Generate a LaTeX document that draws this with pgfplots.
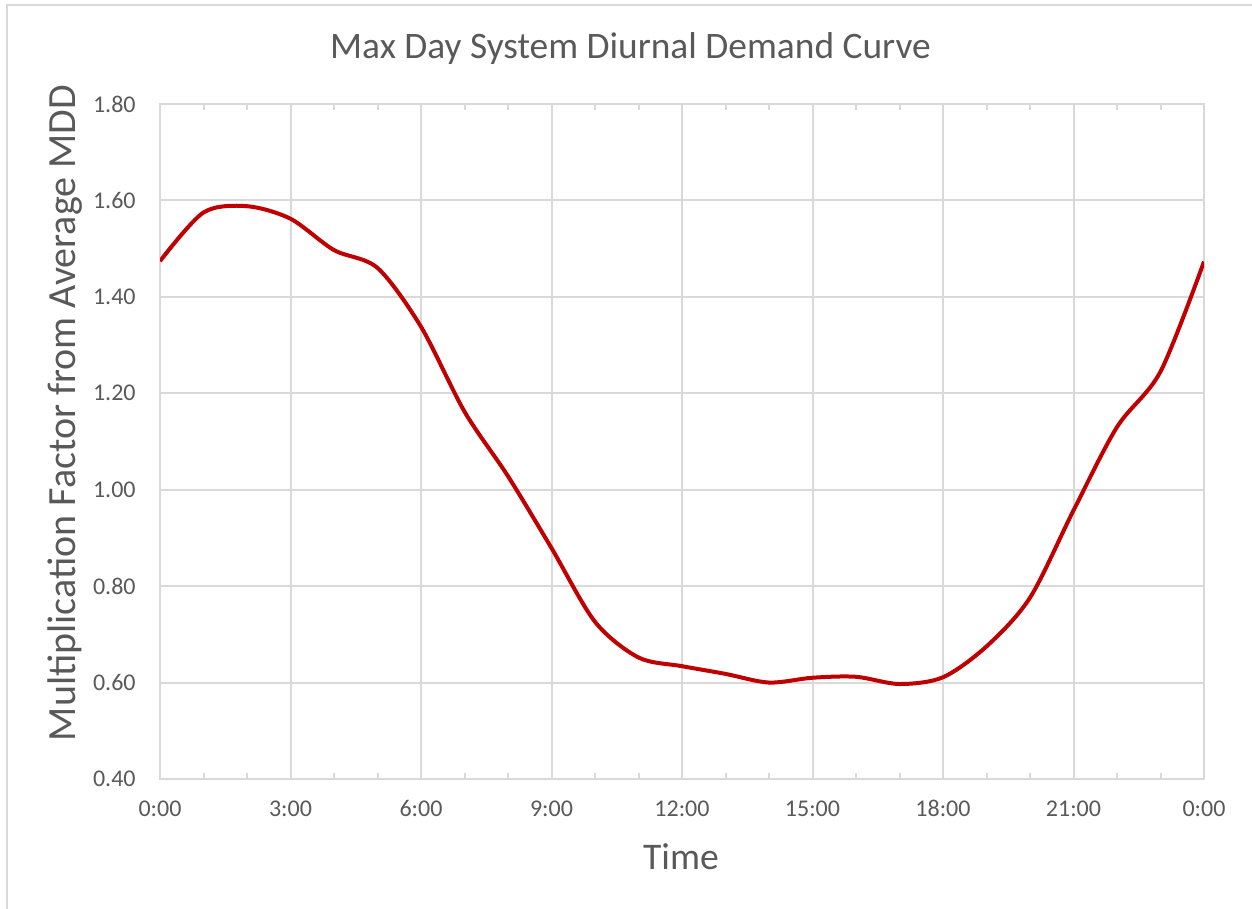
\documentclass[border=0pt]{standalone}
\usepackage{pgfplots}
\pgfplotsset{compat=1.18}
\usepackage{fontspec}
\setmainfont{Carlito}
\definecolor{gridc}{HTML}{D9D9D9}
\definecolor{txt}{HTML}{595959}
\definecolor{curve}{HTML}{C00000}
\begin{document}
\begin{tikzpicture}
\path[use as bounding box] (0,0) rectangle (626pt,454.5pt);
\draw[gridc, line width=1pt] (3.5pt,0) -- (3.5pt,452pt) -- (626pt,452pt);
\begin{axis}[
  at={(80pt,65pt)}, anchor=south west,
  scale only axis, width=522pt, height=337.5pt,
  xmin=0, xmax=24, ymin=0.4, ymax=1.8,
  xtick={0,3,...,24},
  xticklabels={0:00,3:00,6:00,9:00,12:00,15:00,18:00,21:00,0:00},
  minor x tick num=2,
  ytick={0.4,0.6,...,1.81},
  yticklabel style={/pgf/number format/fixed, /pgf/number format/fixed zerofill, /pgf/number format/precision=2},
  /pgf/number format/assume math mode=true,
  grid=major,
  major grid style={gridc, line width=1pt},
  axis line style={gridc, line width=1pt},
  tick align=inside,
  xtick style={gridc, line width=1pt},
  major x tick style={draw=none},
  minor tick length=3pt,
  ytick style={draw=none},
  tick label style={font=\fontsize{12pt}{14pt}\selectfont, text=txt, inner sep=0pt},
  yticklabel style={xshift=-12pt},
  xticklabel style={anchor=base, yshift=-19pt},
]
\addplot[curve, line width=2pt, smooth] coordinates {
(0,1.474) (1,1.575) (2,1.588) (3,1.562) (4,1.497) (5,1.460) (6,1.338)
(7,1.162) (8,1.028) (9,0.879) (10,0.726) (11,0.652) (12,0.634) (13,0.618)
(14,0.600) (15,0.610) (16,0.612) (17,0.597) (18,0.611) (19,0.675) (20,0.776)
(21,0.957) (22,1.130) (23,1.245) (24,1.473)
};
\end{axis}
\node[text=txt, font=\fontsize{18.7pt}{22pt}\selectfont] at (315.25pt,430pt) {Max Day System Diurnal Demand Curve};
\node[text=txt, font=\fontsize{18.8pt}{22pt}\selectfont] at (340.5pt,26pt) {Time};
\node[text=txt, font=\fontsize{20pt}{24pt}\selectfont, rotate=90] at (32.5pt,248pt) {Multiplication Factor from Average MDD};
\end{tikzpicture}
\end{document}
